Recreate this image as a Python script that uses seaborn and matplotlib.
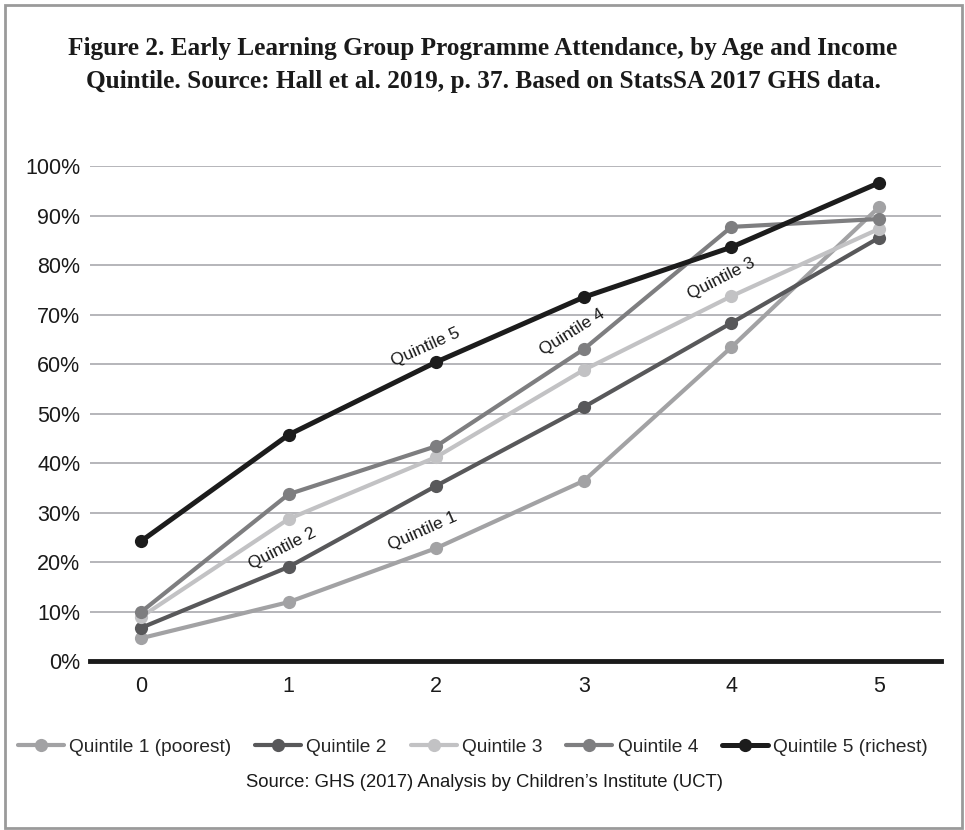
import matplotlib
matplotlib.use("Agg")
import matplotlib.pyplot as plt
import pandas as pd
import seaborn as sns
from matplotlib.patches import Rectangle

# data
ages = [0, 1, 2, 3, 4, 5]
quintile_names = ["Quintile 1 (poorest)", "Quintile 2", "Quintile 3",
                  "Quintile 4", "Quintile 5 (richest)"]
q1 = [4.6, 11.9, 22.8, 36.4, 63.4, 91.7]
q2 = [6.7, 19.0, 35.4, 51.3, 68.3, 85.5]
q3 = [8.9, 28.7, 41.2, 58.8, 73.7, 87.3]
q4 = [9.9, 33.7, 43.4, 63.0, 87.7, 89.3]
q5 = [24.2, 45.7, 60.4, 73.5, 83.6, 96.6]
y_ticks = [0, 10, 20, 30, 40, 50, 60, 70, 80, 90, 100]

# inline labels: text, x, y, rotation
inline_labels = [
    ("Quintile 1", 1.91, 26.3, 24),
    ("Quintile 2", 0.96, 22.8, 27),
    ("Quintile 3", 3.93, 77.2, 27),
    ("Quintile 4", 2.92, 66.5, 32),
    ("Quintile 5", 1.93, 63.4, 24),
]

colors = ["#a2a2a4", "#58585a", "#c2c2c4", "#7e7e80", "#1c1c1c"]
widths = [3.0, 3.0, 3.0, 3.0, 3.6]

df = pd.DataFrame({
    "age": ages * 5,
    "value": q1 + q2 + q3 + q4 + q5,
    "group": [n for n in quintile_names for _ in ages],
})

sns.set_theme(style="white")
plt.rcParams["font.family"] = ["Liberation Sans", "DejaVu Sans"]

fig = plt.figure(figsize=(9.65, 8.3), dpi=100)
ax = fig.add_axes([90 / 965, 1 - 661 / 830, 851 / 965, 495 / 830])

for name, col, lw in zip(quintile_names, colors, widths):
    sub = df[df["group"] == name]
    sns.lineplot(data=sub, x="age", y="value", color=col, linewidth=lw,
                 marker="o", markersize=9.5, markeredgewidth=0,
                 label=name, ax=ax, clip_on=False, zorder=3)

ax.set_xlim(-0.346, 5.42)
ax.set_ylim(0, 100)
ax.set_xticks(ages)
ax.set_xticklabels([str(a) for a in ages], fontsize=15.5, color="#1a1a1a")
ax.set_yticks(y_ticks)
ax.set_yticklabels([f"{t}%" for t in y_ticks], fontsize=15.5, color="#1a1a1a")
ax.tick_params(axis="both", length=0)
ax.tick_params(axis="x", pad=11)
ax.tick_params(axis="y", pad=7)
ax.set_xlabel("")
ax.set_ylabel("")
ax.grid(axis="y", color="#b0b0b4", linewidth=1.3)
ax.set_axisbelow(True)
for s in ["top", "right", "left"]:
    ax.spines[s].set_visible(False)
ax.spines["bottom"].set_color("#1a1a1a")
ax.spines["bottom"].set_linewidth(3.5)
ax.spines["bottom"].set_zorder(4)

for txt, x, y, rot in inline_labels:
    ax.text(x, y, txt, rotation=rot, ha="center", va="center",
            fontsize=12.5, color="#1a1a1a", rotation_mode="anchor", zorder=5)

handles, labels = ax.get_legend_handles_labels()
ax.get_legend().remove()
fig.legend(handles, labels, loc="center", bbox_to_anchor=(0.49, 1 - 747 / 830),
           ncol=5, frameon=False, fontsize=13.8, handlelength=2.4,
           columnspacing=1.25, handletextpad=0.27)

fig.text(485 / 965, 1 - 782 / 830,
         "Source: GHS (2017) Analysis by Children\u2019s Institute (UCT)",
         ha="center", va="center", fontsize=13.3, color="#1a1a1a")

serif = ["Liberation Serif", "DejaVu Serif"]
fig.text(483 / 965, 1 - 55 / 830,
         "Figure 2. Early Learning Group Programme Attendance, by Age and Income",
         ha="center", va="baseline", fontsize=18.2, fontweight="bold",
         family=serif, color="#1a1a1a")
fig.text(483 / 965, 1 - 88 / 830,
         "Quintile. Source: Hall et al. 2019, p. 37. Based on StatsSA 2017 GHS data.",
         ha="center", va="baseline", fontsize=18.2, fontweight="bold",
         family=serif, color="#1a1a1a")

fig.patches.append(Rectangle((5 / 965, 2 / 830), 957 / 965, 823 / 830,
                             transform=fig.transFigure, fill=False,
                             edgecolor="#9a9a9a", linewidth=2))

fig.savefig("out.png", dpi=100, facecolor="white")
